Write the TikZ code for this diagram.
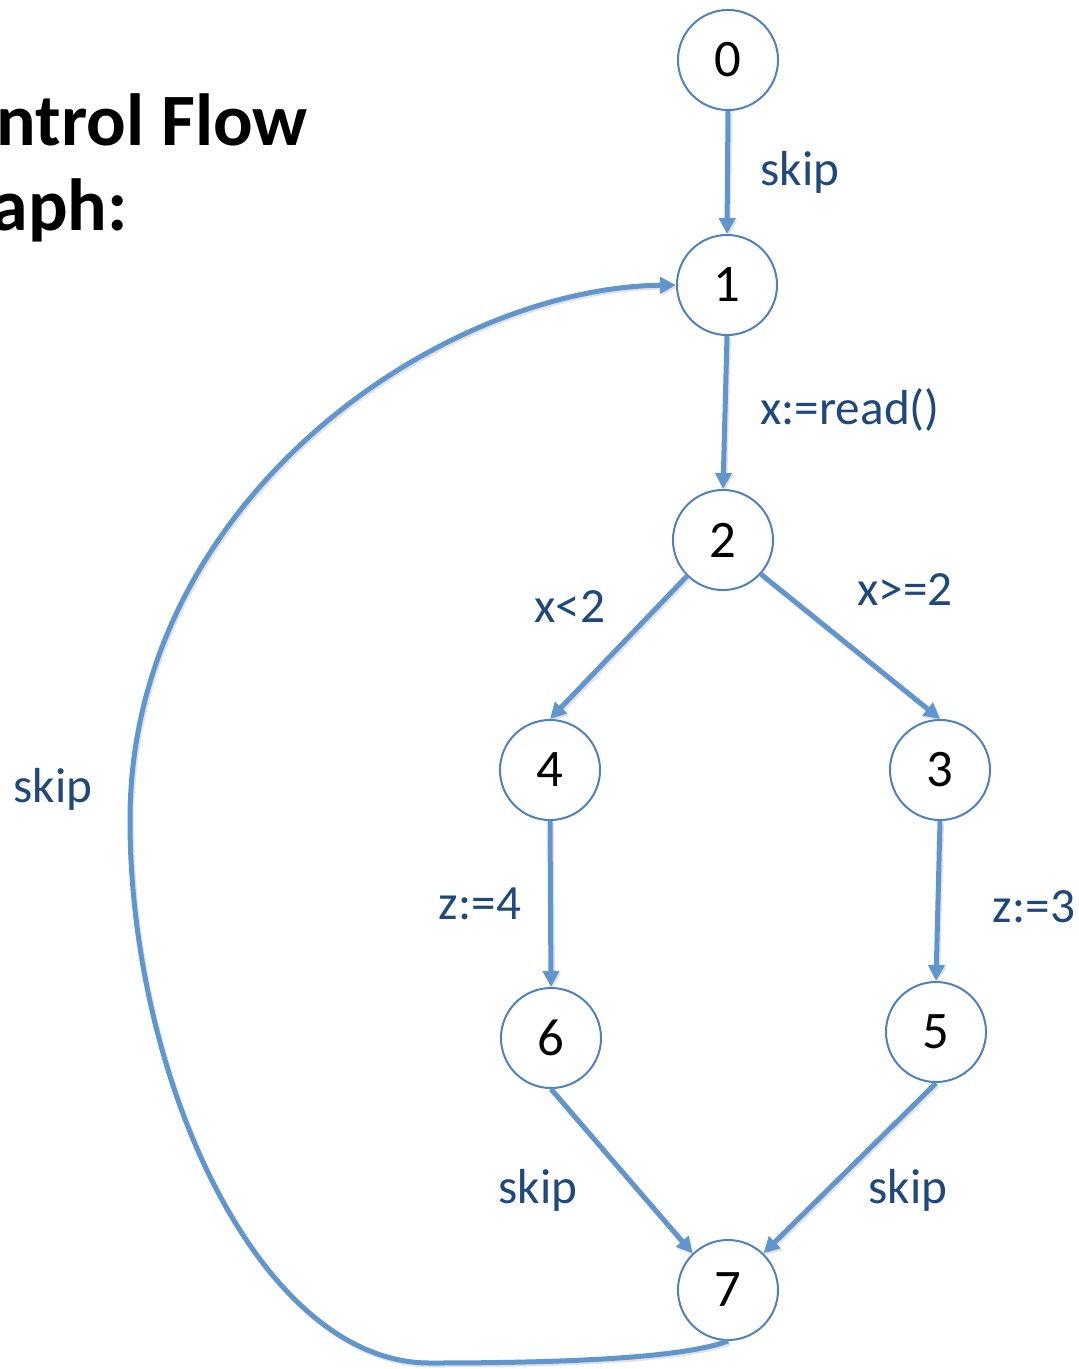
\documentclass[tikz,border=0pt]{standalone}
\usepackage{fontspec}
\setmainfont{Carlito}
\usetikzlibrary{arrows.meta}
\definecolor{edgeblue}{RGB}{96,150,205}
\definecolor{nodeblue}{RGB}{79,129,189}
\definecolor{labelblue}{RGB}{31,73,125}
\begin{document}
\begin{tikzpicture}[x=0.01cm,y=-0.01cm,
  state/.style={circle,draw=nodeblue,line width=0.02cm,minimum size=1.0cm,inner sep=0pt,
    font=\fontsize{15}{18}\selectfont,fill=white},
  flow/.style={draw=edgeblue,line width=0.05cm,
    -{Triangle[length=0.16cm,width=0.16cm]},
    preaction={draw=black!45,opacity=0.25,line width=0.05cm,
      transform canvas={xshift=0.015cm,yshift=-0.02cm}}},
  lbl/.style={text=labelblue,font=\fontsize{14}{17}\selectfont,anchor=base,inner sep=0pt},
  ttl/.style={anchor=base west,inner sep=0pt,font=\bfseries\fontsize{21}{25}\selectfont}]
\useasboundingbox (0,0) rectangle (1079,1369);
\clip (0,0) rectangle (1079,1369);

% title (clipped at the left edge)
\node[ttl] (t1) at (-4,145) {ntrol Flow};
\node[ttl] (t2) at (-9,230) {aph:};

% nodes
\node[state] (n0) at (728,60) {0};
\node[state] (n1) at (727,285) {1};
\node[state] (n2) at (723,540) {2};
\node[state] (n4) at (550,770) {4};
\node[state] (n3) at (940,770) {3};
\node[state] (n6) at (551,1038) {6};
\node[state] (n5) at (936,1032) {5};
\node[state] (n7) at (728,1290) {7};

% edges
\draw[flow] (n0.south) -- (n1.north);
\draw[flow] (n1.south) -- (n2.north);
\draw[flow] (n2.225) -- (n4.north);
\draw[flow] (n2.318) -- (n3.north);
\draw[flow] (n4.south) -- (n6.north);
\draw[flow] (n3.south) -- (n5.north);
\draw[flow] (n6.south) -- (n7.134);
\draw[flow] (n5.south) -- (n7.46);
\draw[flow] (n7.south) .. controls (690,1355) and (600,1363) .. (430,1363)
  .. controls (260,1363) and (130,1080) .. (130,820)
  .. controls (130,500) and (440,288) .. (n1.west);

% labels
\node[lbl] (l01) at (800,185) {skip};
\node[lbl] (l12) at (850,424) {x:=read()};
\node[lbl] (l24) at (570,622) {x<2};
\node[lbl] (l23) at (905,605) {x>=2};
\node[lbl] (l46) at (480,919) {z:=4};
\node[lbl] (l35) at (1034,922) {z:=3};
\node[lbl] (l67) at (538,1203) {skip};
\node[lbl] (l57) at (908,1203) {skip};
\node[lbl] (l71) at (53,802) {skip};
\end{tikzpicture}
\end{document}
